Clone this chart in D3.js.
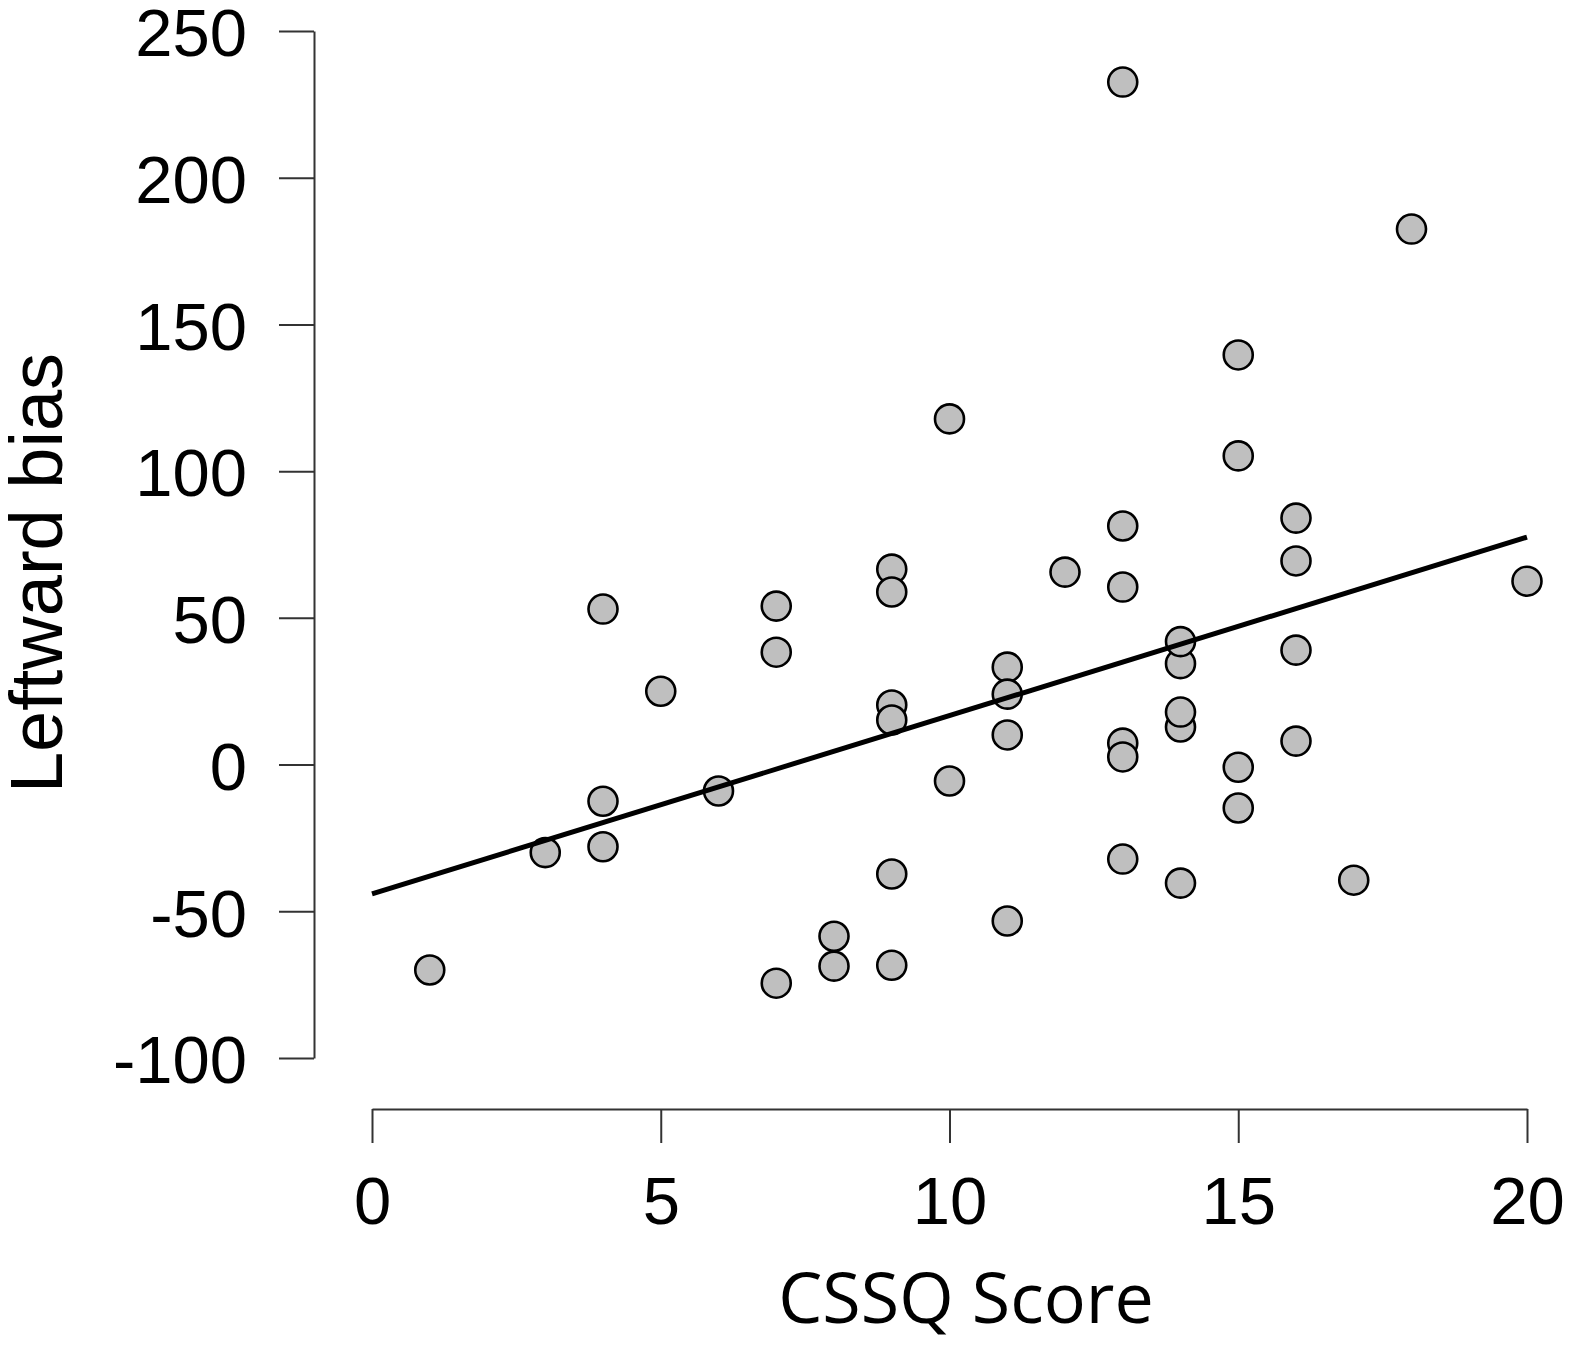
<!DOCTYPE html>
<html lang="en">
<head>
    <meta charset="UTF-8">
    <title>Leftward bias vs CSSQ Score</title>
    <script src="https://cdn.jsdelivr.net/npm/d3@7"></script>
    <style>
        body { margin: 0; background: #fff; }
    </style>
</head>
<body>
<div id="chart"></div>
<script>
    // data
    var cssqScore = [1, 3, 4, 4, 4, 5, 6, 7, 7, 7, 8, 8, 9, 9, 9, 9, 9, 9,
                     10, 10, 11, 11, 11, 11, 12, 13, 13, 13, 13, 13, 13,
                     14, 14, 14, 14, 14, 15, 15, 15, 15, 16, 16, 16, 16, 17, 18, 20];
    var leftwardBias = [-70, -30, 53, -12.5, -28, 25, -9, 54, 38.3, -74.5, -58.5, -68.7,
                        66.6, 58.8, 20.3, 15.2, -37.3, -68.4,
                        117.8, -5.6, 33.2, 24, 10.1, -53.3, 65.6,
                        232.6, 81.3, 60.5, 7.3, 2.6, -32.2,
                        34.4, 41.9, 12.8, 17.9, -40.4,
                        139.6, 105.2, -0.9, -14.8,
                        84, 69.4, 39, 8, -39.4, 182.5, 62.5];
    var fitX = [0, 20];
    var fitY = [-44.1, 77.5];
    var xTicks = [0, 5, 10, 15, 20];
    var yTicks = [-100, -50, 0, 50, 100, 150, 200, 250];

    var width = 1572;
    var height = 1347;

    var svg = d3.select("#chart")
        .append("svg")
        .attr("width", width)
        .attr("height", height);

    var x = d3.scaleLinear().domain([0, 20]).range([372, 1527]);
    var y = d3.scaleLinear().domain([-100, 250]).range([1058, 31]);

    var tickFont = "'Liberation Sans', Arial, sans-serif";
    // plain hyphen for negatives, like the original
    var plain = function (d) { return String(d); };

    // y axis
    var yAxis = d3.axisLeft(y)
        .tickValues(yTicks)
        .tickFormat(plain)
        .tickSize(35)
        .tickSizeOuter(0)
        .tickPadding(32);

    var gy = svg.append("g")
        .attr("transform", "translate(314,0)")
        .call(yAxis);

    // x axis
    var xAxis = d3.axisBottom(x)
        .tickValues(xTicks)
        .tickFormat(plain)
        .tickSize(34)
        .tickSizeOuter(0)
        .tickPadding(33);

    var gx = svg.append("g")
        .attr("transform", "translate(0,1109)")
        .call(xAxis);

    [gx, gy].forEach(function (g) {
        g.selectAll("path, line")
            .attr("stroke", "#333")
            .attr("stroke-width", 2);
        g.selectAll("text")
            .attr("fill", "#000")
            .style("font-family", tickFont)
            .style("font-size", "67px");
    });
    gy.selectAll("text").attr("dy", "0.37em");

    // points
    var pts = cssqScore.map(function (d, i) {
        return {x: d, y: leftwardBias[i]};
    });

    svg.append("g")
        .selectAll("circle")
        .data(pts)
        .enter()
        .append("circle")
        .attr("cx", function (d) { return x(d.x); })
        .attr("cy", function (d) { return y(d.y); })
        .attr("r", 14.5)
        .attr("fill", "#bfbfbf")
        .attr("stroke", "#000")
        .attr("stroke-width", 2.6);

    // fit line on top
    var line = d3.line()
        .x(function (d) { return x(d[0]); })
        .y(function (d) { return y(d[1]); });

    svg.append("path")
        .datum(fitX.map(function (d, i) { return [d, fitY[i]]; }))
        .attr("d", line)
        .attr("fill", "none")
        .attr("stroke", "#000")
        .attr("stroke-width", 5);

    // axis titles
    svg.append("text")
        .attr("transform", "translate(62,573) rotate(-90)")
        .attr("text-anchor", "middle")
        .style("font-family", tickFont)
        .style("font-size", "74px")
        .text("Leftward bias");

    svg.append("text")
        .attr("x", 966)
        .attr("y", 1323)
        .attr("text-anchor", "middle")
        .style("font-family", "'Open Sans', 'Noto Sans', sans-serif")
        .style("font-size", "70px")
        .text("CSSQ Score");
</script>
</body>
</html>
